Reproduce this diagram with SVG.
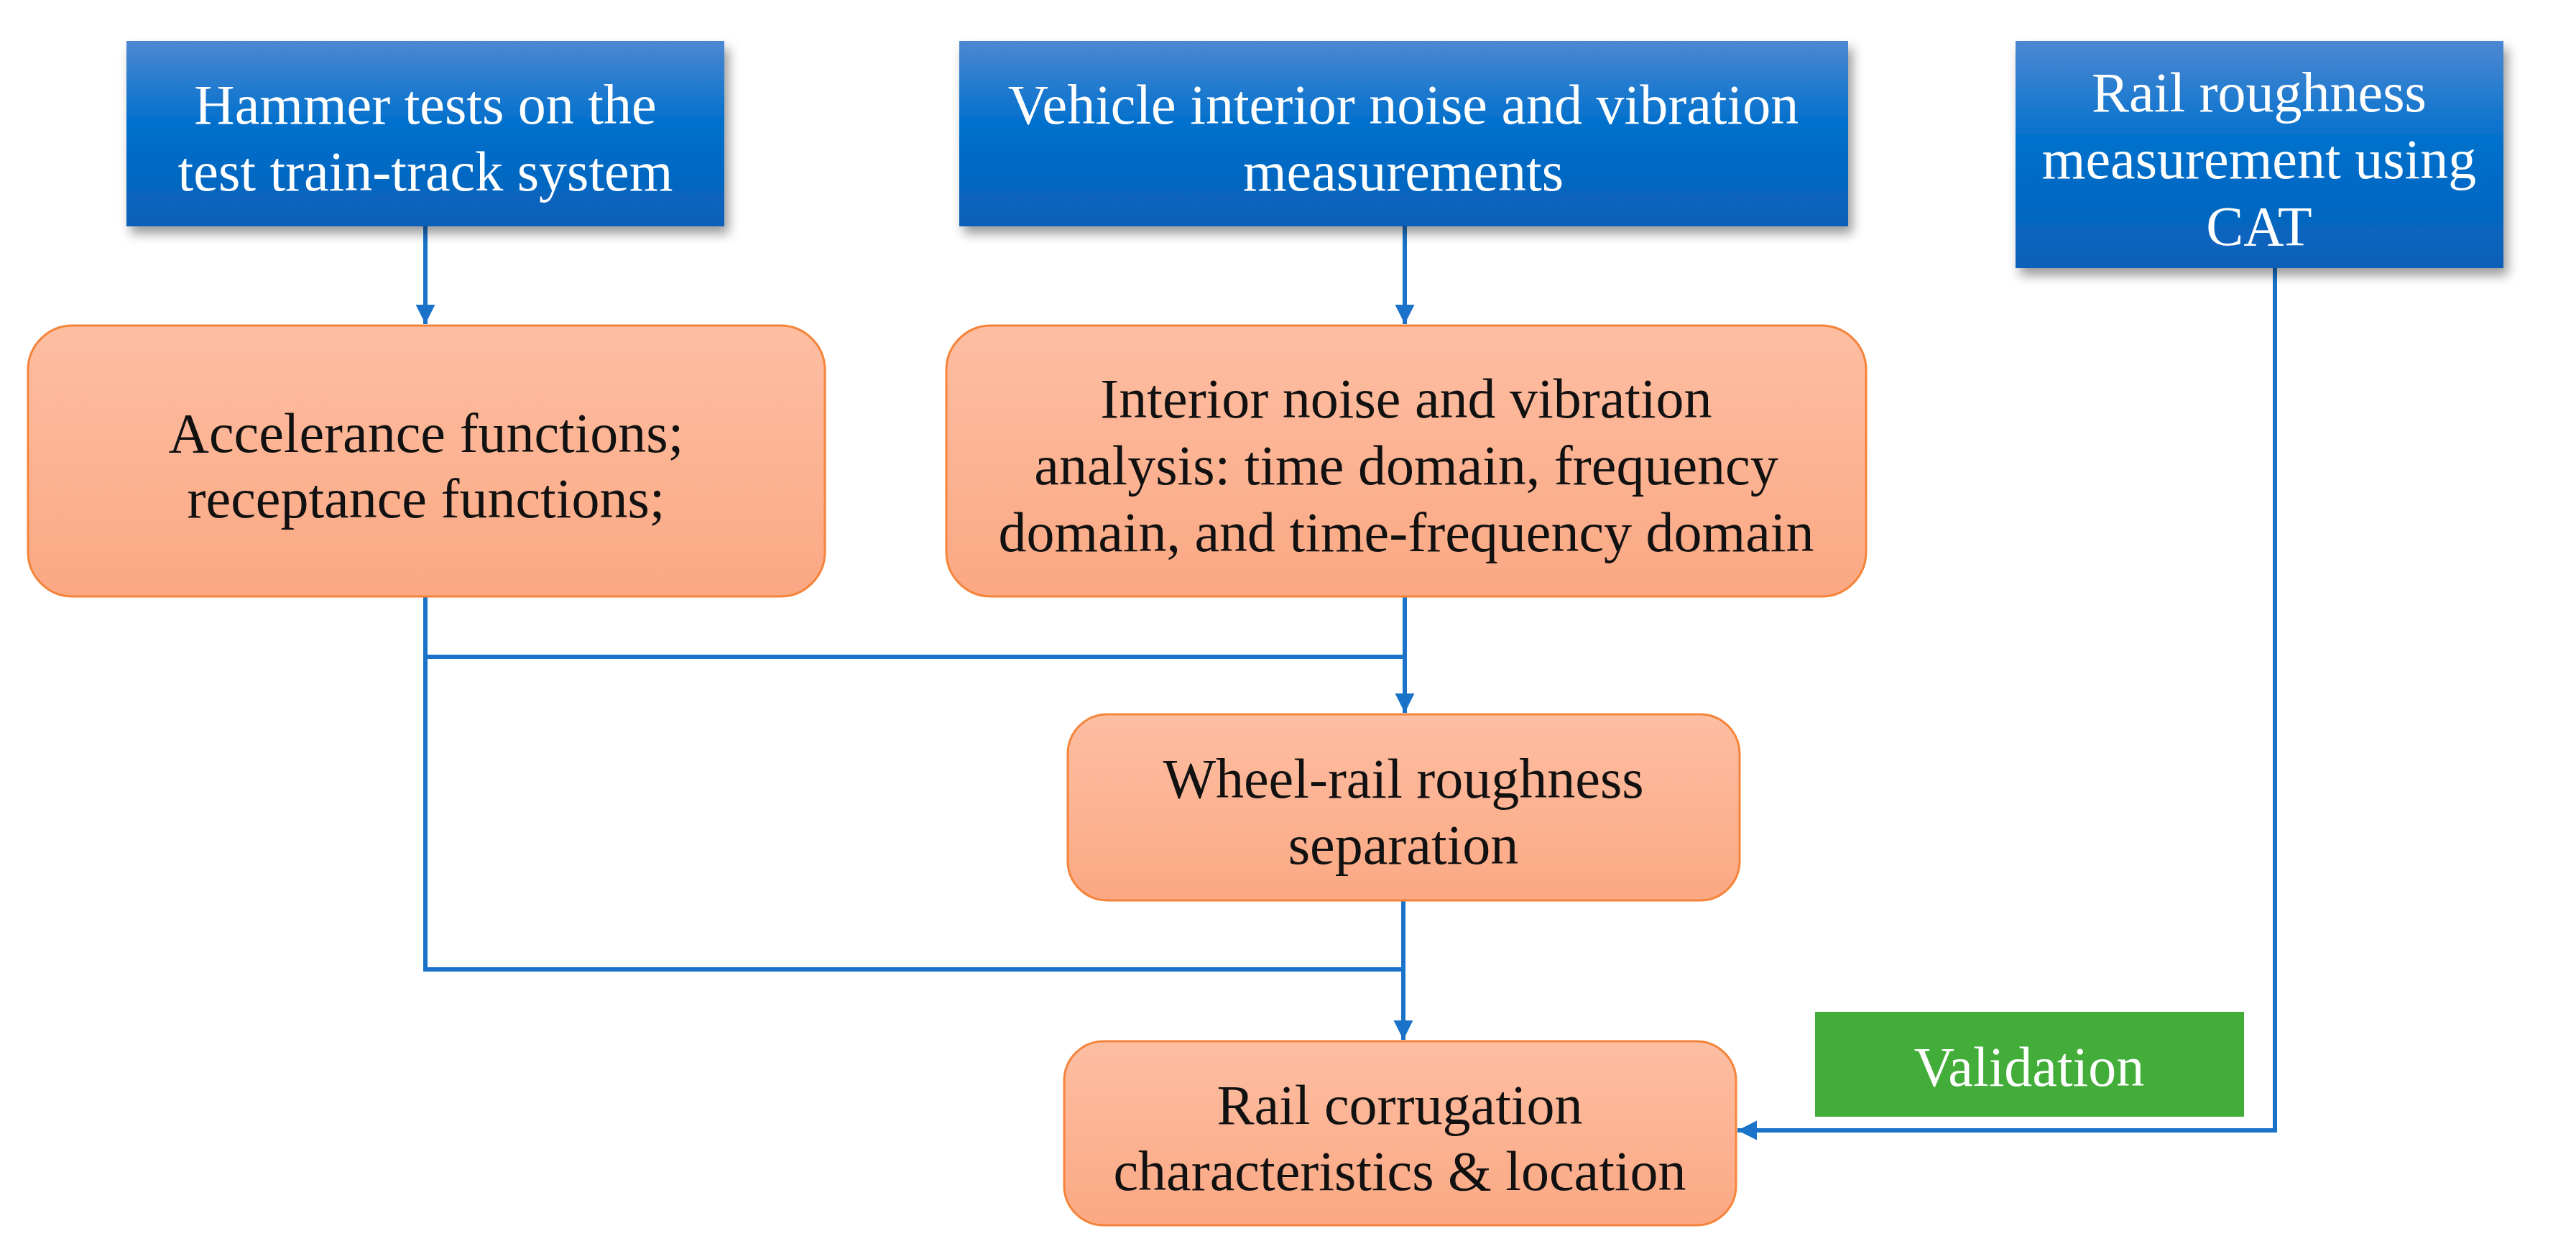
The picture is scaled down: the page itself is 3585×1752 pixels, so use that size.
<svg xmlns="http://www.w3.org/2000/svg" width="3585" height="1752" viewBox="0 0 3585 1752">
<style>
.t{font-family:"Liberation Serif","Times New Roman",serif;font-size:78px;text-anchor:middle}
.w{fill:#fff}.k{fill:#111}
.blue{fill:url(#gb);filter:url(#sh)}
.or{fill:url(#go);stroke:#f5843a;stroke-width:3}
.c{fill:none;stroke:#1a73c8;stroke-width:6}
</style>
<defs>
<linearGradient id="gb" x1="0" y1="0" x2="0" y2="1"><stop offset="0" stop-color="#4d88d2"/><stop offset="0.45" stop-color="#0070cc"/><stop offset="1" stop-color="#0a60b8"/></linearGradient>
<linearGradient id="go" x1="0" y1="0" x2="0" y2="1"><stop offset="0" stop-color="#fdbea2"/><stop offset="1" stop-color="#fba883"/></linearGradient>
<filter id="sh" x="-10%" y="-10%" width="130%" height="140%"><feDropShadow dx="6" dy="10" stdDeviation="8" flood-color="#000" flood-opacity="0.4"/></filter>
<marker id="ar" viewBox="0 0 10 10" refX="10" refY="5" markerWidth="4.5" markerHeight="5.5" orient="auto" markerUnits="strokeWidth"><path d="M0,0L10,5L0,10z" fill="#1a73c8"/></marker>
</defs>
<rect width="3585" height="1752" fill="#fff"/>
<g id="connectors">
<path class="c" d="M592,315V451" marker-end="url(#ar)"/>
<path class="c" d="M1955,315V451" marker-end="url(#ar)"/>
<path class="c" d="M592,830V1349H1955"/>
<path class="c" d="M592,914H1955"/>
<path class="c" d="M1955,830V992" marker-end="url(#ar)"/>
<path class="c" d="M1953,1253V1447" marker-end="url(#ar)"/>
<path class="c" d="M3166,373V1573H2418" marker-end="url(#ar)"/>
</g>
<g id="hammer"><rect class="blue" x="176" y="57" width="832" height="258"/>
<text class="t w" x="592" y="172">Hammer tests on the</text><text class="t w" x="592" y="265">test train-track system</text></g>
<g id="vehicle"><rect class="blue" x="1335" y="57" width="1237" height="258"/>
<text class="t w" x="1953" y="172">Vehicle interior noise and vibration</text><text class="t w" x="1953" y="265">measurements</text></g>
<g id="railrough"><rect class="blue" x="2805" y="57" width="679" height="316"/>
<text class="t w" x="3144" y="155">Rail roughness</text><text class="t w" x="3144" y="248">measurement using</text><text class="t w" x="3144" y="341">CAT</text></g>
<g id="accel"><rect class="or" x="39" y="453" width="1109" height="377" rx="62"/>
<text class="t k" x="593" y="629">Accelerance functions;</text><text class="t k" x="593" y="720">receptance functions;</text></g>
<g id="interior"><rect class="or" x="1317" y="453" width="1280" height="377" rx="62"/>
<text class="t k" x="1957" y="581">Interior noise and vibration</text><text class="t k" x="1957" y="674">analysis: time domain, frequency</text><text class="t k" x="1957" y="767">domain, and time-frequency domain</text></g>
<g id="wheel"><rect class="or" x="1486" y="994" width="935" height="259" rx="55"/>
<text class="t k" x="1953" y="1110">Wheel-rail roughness</text><text class="t k" x="1953" y="1202">separation</text></g>
<g id="rail"><rect class="or" x="1481" y="1449" width="935" height="256" rx="55"/>
<text class="t k" x="1948" y="1564">Rail corrugation</text><text class="t k" x="1948" y="1656">characteristics &amp; location</text></g>
<g id="validation"><rect x="2526" y="1408" width="597" height="146" fill="#43ad3a"/>
<text class="t w" x="2824" y="1511">Validation</text></g>
</svg>
